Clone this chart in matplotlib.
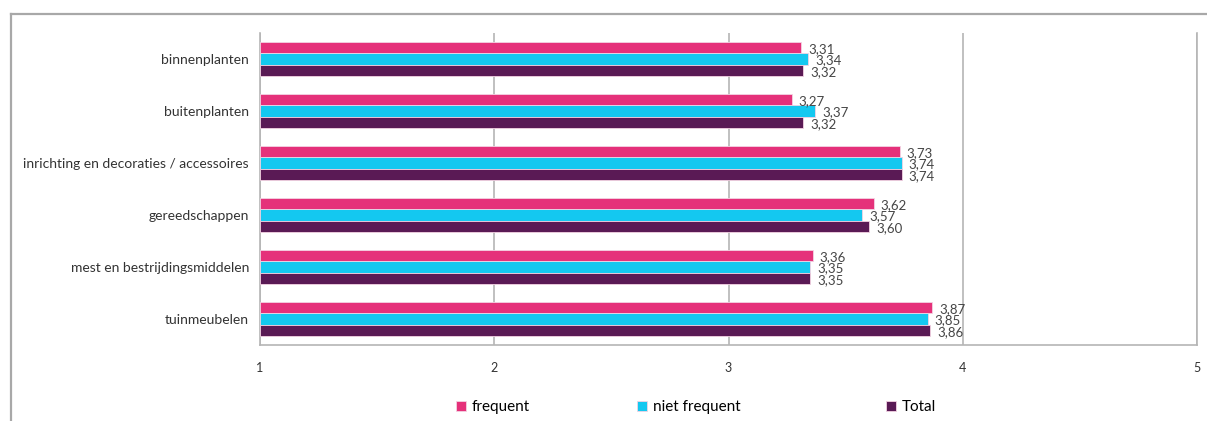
import numpy as np
import matplotlib.pyplot as plt
from matplotlib.lines import Line2D

plt.rcParams['font.family'] = ['Lato', 'DejaVu Sans']

categories = ['binnenplanten', 'buitenplanten', 'inrichting en decoraties / accessoires',
              'gereedschappen', 'mest en bestrijdingsmiddelen', 'tuinmeubelen']
frequent = [3.31, 3.27, 3.73, 3.62, 3.36, 3.87]
niet_frequent = [3.34, 3.37, 3.74, 3.57, 3.35, 3.85]
total = [3.32, 3.32, 3.74, 3.60, 3.35, 3.86]
series_names = ['frequent', 'niet frequent', 'Total']
colors = ['#E5317A', '#14C8F0', '#5A1A55']
x_ticks = [1, 2, 3, 4, 5]

fig = plt.figure(figsize=(12.07, 4.21), dpi=100)
ax = fig.add_axes([260 / 1207, 1 - 345 / 421, (1197 - 260) / 1207, (345 - 33) / 421])

y = np.arange(len(categories))
h = 0.218
bars = []
for k, (vals, col) in enumerate(zip([frequent, niet_frequent, total], colors)):
    pos = y + (k - 1) * h
    b = ax.barh(pos, np.array(vals) - 1, left=1, height=h, color=col,
                edgecolor='#f3d3e3', linewidth=0.6, label=series_names[k], zorder=3)
    bars.append(b)
    for p, v in zip(pos, vals):
        ax.text(v + 0.03, p + 0.03, f'{v:.2f}'.replace('.', ','), va='center', ha='left',
                fontsize=9.5, color='#454545', zorder=4)

ax.set_xlim(1, 5)
ax.set_ylim(len(categories) - 0.5, -0.5)
ax.set_xticks(x_ticks)
ax.set_xticklabels([str(t) for t in x_ticks], fontsize=9, color='#333333')
ax.set_yticks(y)
ax.set_yticklabels(categories, fontsize=10, color='#333333')
ax.tick_params(axis='x', length=0, pad=12)
ax.tick_params(axis='y', length=0, pad=8)
ax.xaxis.grid(True, color='#b5b5b5', linewidth=1.2, zorder=0)
for side in ['left', 'right', 'bottom']:
    ax.spines[side].set_color('#b5b5b5')
    ax.spines[side].set_linewidth(1.2)
ax.spines['top'].set_visible(False)

# outer chart frame (cropped on right/bottom)
fig.add_artist(Line2D([11 / 1207, 1.0], [1 - 14 / 421, 1 - 14 / 421],
                      color='#a8a8a8', linewidth=1.6, transform=fig.transFigure))
fig.add_artist(Line2D([11 / 1207, 11 / 1207], [1 - 14 / 421, 0.0],
                      color='#a8a8a8', linewidth=1.6, transform=fig.transFigure))

# legend entries
leg_x = [456, 637, 886]
for b, name, lx in zip(bars, series_names, leg_x):
    fig.legend([b], [name], loc='center left', bbox_to_anchor=(lx / 1207, 1 - 407 / 421),
               frameon=False, fontsize=11, handlelength=0.65, handleheight=0.65,
               handletextpad=0.4, borderpad=0, borderaxespad=0)

fig.savefig('out.png', dpi=100)
